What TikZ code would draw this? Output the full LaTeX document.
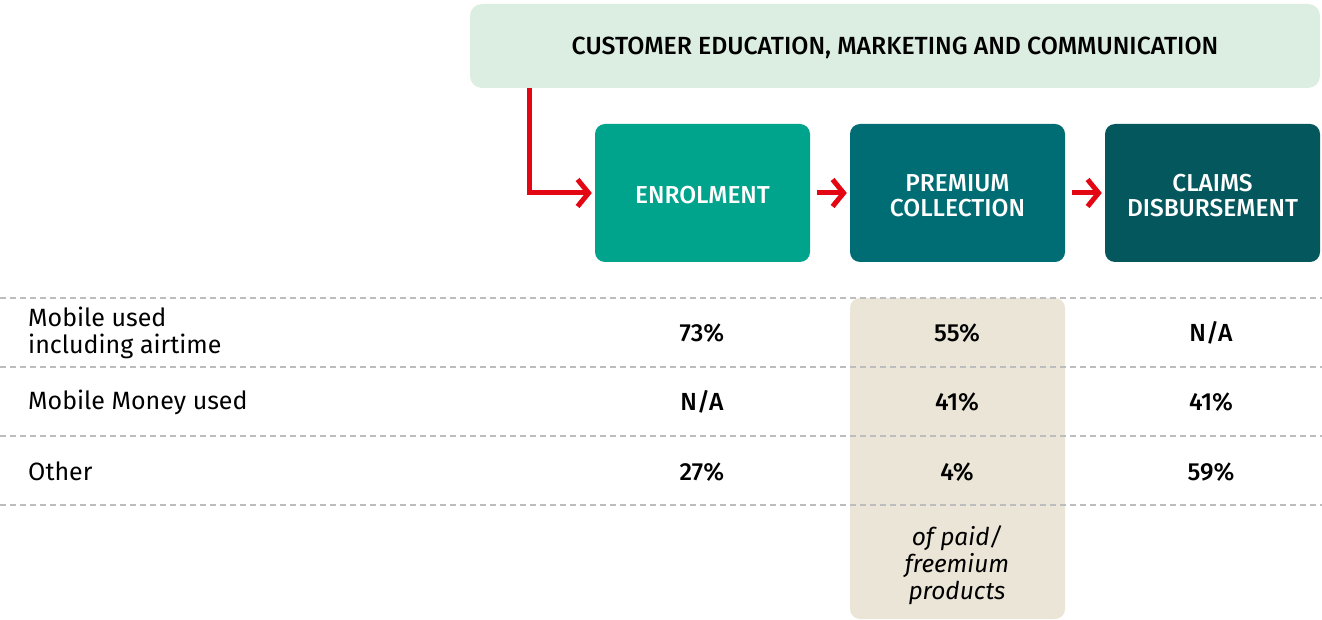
\documentclass[tikz,border=0pt]{standalone}
\usepackage{fontspec}
\setmainfont{Fira Sans}[BoldFont={Fira Sans Medium}]
\usetikzlibrary{arrows.meta,positioning,calc}
\definecolor{banner}{HTML}{DCEDE1}
\definecolor{enrolc}{HTML}{00A48C}
\definecolor{premc}{HTML}{006D74}
\definecolor{claimc}{HTML}{04575C}
\definecolor{beige}{HTML}{EAE5D6}
\definecolor{redc}{HTML}{E30613}
\definecolor{dashc}{HTML}{BDBDBD}
\begin{document}
\begin{tikzpicture}[x=1pt,y=-1pt,
  stagebox/.style={rounded corners=10pt,minimum width=215pt,minimum height=138pt,inner sep=0pt},
  stagetext/.style={text=white,font=\bfseries\fontsize{24.5}{25}\selectfont,align=center,inner sep=0pt},
  redarrow/.style={draw=redc,line width=5pt,-{Straight Barb[length=11pt,width=27pt,line width=5pt]}},
  sepline/.style={draw=dashc,line width=1.1pt,dash pattern=on 6pt off 4pt},
  rowlabel/.style={anchor=west,align=left,font=\fontsize{25}{27}\selectfont,inner sep=0pt},
  val/.style={font=\bfseries\fontsize{24.7}{27}\selectfont,inner sep=0pt}
  ]
\useasboundingbox (0,0) rectangle (1322,620);
% beige column
\fill[beige,rounded corners=10pt] (850,298) rectangle (1065,619);
% dashed lines
\foreach \yy in {298,367,436,505} \draw[sepline] (0,\yy) -- (1322,\yy);
% banner
\node[fill=banner,rounded corners=12pt,minimum width=850pt,minimum height=84pt,inner sep=0pt] (ban) at (895,46) {};
\node[inner sep=0pt,font=\bfseries\fontsize{24.8}{26}\selectfont] (bantext) at ($(ban.center)+(0,2)$) {CUSTOMER EDUCATION, MARKETING AND COMMUNICATION};
% stage boxes
\node[stagebox,fill=enrolc] (enrol) at (702.5,193) {};
\node[stagebox,fill=premc] (prem) at (957.5,193) {};
\node[stagebox,fill=claimc] (claim) at (1212.5,193) {};
\node[stagetext] (enroltext) at ($(enrol.center)+(0,2.5)$) {ENROLMENT};
\node[stagetext] (premtext) at ($(prem.center)+(0,2.5)$) {PREMIUM\\COLLECTION};
\node[stagetext] (claimtext) at ($(claim.center)+(0,2.5)$) {CLAIMS\\DISBURSEMENT};
% arrows
\coordinate (start) at ($(ban.south west)+(60,0)$);
\draw[redarrow] (start) |- ($(enrol.west)+(-3,0)$);
\draw[redarrow] ($(enrol.east)+(7,0)$) -- ($(prem.west)+(-3,0)$);
\draw[redarrow] ($(prem.east)+(7,0)$) -- ($(claim.west)+(-3,0)$);
% row labels
\node[rowlabel] (r1) at (28,333) {Mobile used\\including airtime};
\node[rowlabel] (r2) at (28,402) {Mobile Money used};
\node[rowlabel] (r3) at (28,471) {Other};
% values
\node[val] (v11) at (702,333) {73\%};
\node[val] (v12) at (957,333) {55\%};
\node[val] (v13) at (1211,333) {N/A};
\node[val] (v21) at (702,402) {N/A};
\node[val] (v22) at (957,402) {41\%};
\node[val] (v23) at (1211,402) {41\%};
\node[val] (v31) at (702,472) {27\%};
\node[val] (v32) at (957,472) {4\%};
\node[val] (v33) at (1211,472) {59\%};
\node[align=center,inner sep=0pt,font=\itshape\fontsize{24.5}{27}\selectfont] (note) at (957,565) {of paid/\\freemium\\products};
\end{tikzpicture}
\end{document}
